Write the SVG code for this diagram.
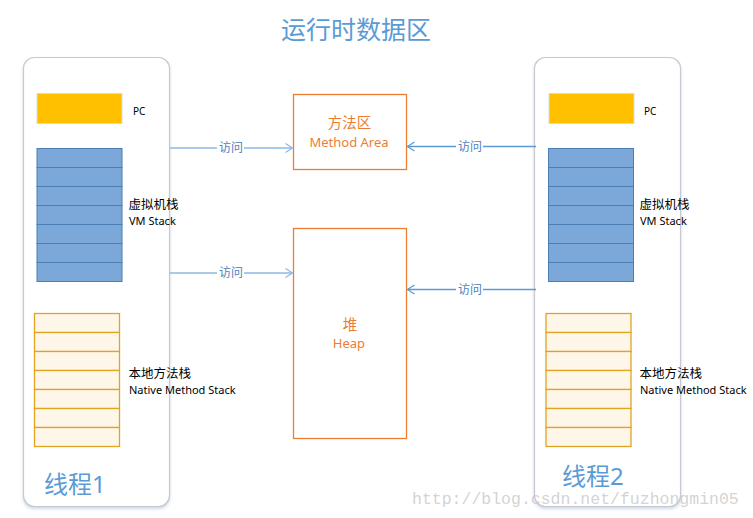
<svg xmlns="http://www.w3.org/2000/svg" width="753" height="518" viewBox="0 0 753 518">
<defs>
<style>
.t{font-family:"Noto Sans","Noto Sans CJK SC",sans-serif;fill:#000}
.lbl{font-size:11px}
.zh{font-size:12.5px}
.pc{font-size:10px}
.org{font-family:"Noto Sans","Noto Sans CJK SC",sans-serif;fill:#ED7D31;text-anchor:middle}
.blue{font-family:"Noto Sans","Noto Sans CJK SC",sans-serif;fill:#5B9BD5}
.cl{font-family:"Noto Sans CJK SC",sans-serif;font-size:12px;fill:#4F81BD;text-anchor:middle}
.panel{fill:#fff;stroke:#c6c9cf;stroke-width:1.2}
.pcbox{fill:#FFC000;stroke:#d9d9d9;stroke-width:1}
.vm{fill:#7BA7D9;stroke:#4A7EB5;stroke-width:1}
.nat{fill:#FFF6EA;stroke:#E0A520;stroke-width:1.3}
.area{fill:#fff;stroke:#ED7D31;stroke-width:1.3}
.conn{fill:none;stroke-width:1.3}
</style>
<filter id="sh" x="-10%" y="-5%" width="120%" height="110%">
<feDropShadow dx="0" dy="2" stdDeviation="1.5" flood-color="#9db8d8" flood-opacity="0.5"/>
</filter>
<marker id="arL" markerUnits="userSpaceOnUse" markerWidth="10" markerHeight="12" refX="8" refY="5" orient="auto">
<path d="M1,0.5 L8,5 L1,9.5" fill="none" stroke="#8EB8E5" stroke-width="1.2"/>
</marker>
<marker id="arR" markerUnits="userSpaceOnUse" markerWidth="10" markerHeight="12" refX="8" refY="5" orient="auto">
<path d="M1,0.5 L8,5 L1,9.5" fill="none" stroke="#5B9BD5" stroke-width="1.2"/>
</marker>
</defs>
<rect width="753" height="518" fill="#fff"/>

<text class="blue" x="281" y="39" font-size="25">运行时数据区</text>

<g id="thread1">
<rect class="panel" x="23.5" y="57.5" width="146" height="449" rx="11" filter="url(#sh)"/>
<rect class="pcbox" x="37" y="93.5" width="85" height="30"/>
<text class="t pc" x="133" y="115">PC</text>
<rect class="vm" x="37" y="148.5" width="85" height="19"/>
<rect class="vm" x="37" y="167.5" width="85" height="19"/>
<rect class="vm" x="37" y="186.5" width="85" height="19"/>
<rect class="vm" x="37" y="205.5" width="85" height="19"/>
<rect class="vm" x="37" y="224.5" width="85" height="19"/>
<rect class="vm" x="37" y="243.5" width="85" height="19"/>
<rect class="vm" x="37" y="262.5" width="85" height="19"/>
<text class="t zh" x="128.5" y="209">虚拟机栈</text>
<text class="t lbl" x="129" y="225">VM Stack</text>
<rect class="nat" x="34.5" y="313.5" width="85" height="19"/>
<rect class="nat" x="34.5" y="332.5" width="85" height="19"/>
<rect class="nat" x="34.5" y="351.5" width="85" height="19"/>
<rect class="nat" x="34.5" y="370.5" width="85" height="19"/>
<rect class="nat" x="34.5" y="389.5" width="85" height="19"/>
<rect class="nat" x="34.5" y="408.5" width="85" height="19"/>
<rect class="nat" x="34.5" y="427.5" width="85" height="19"/>
<text class="t zh" x="128.5" y="378">本地方法栈</text>
<text class="t lbl" x="129" y="394">Native Method Stack</text>
<text class="blue" x="44" y="493" font-size="24">线程1</text>
</g>

<g id="thread2">
<rect class="panel" x="534.5" y="57.5" width="146" height="449" rx="11" filter="url(#sh)"/>
<rect class="pcbox" x="549" y="93.5" width="85" height="30"/>
<text class="t pc" x="644" y="115">PC</text>
<rect class="vm" x="548.5" y="148.5" width="85" height="19"/>
<rect class="vm" x="548.5" y="167.5" width="85" height="19"/>
<rect class="vm" x="548.5" y="186.5" width="85" height="19"/>
<rect class="vm" x="548.5" y="205.5" width="85" height="19"/>
<rect class="vm" x="548.5" y="224.5" width="85" height="19"/>
<rect class="vm" x="548.5" y="243.5" width="85" height="19"/>
<rect class="vm" x="548.5" y="262.5" width="85" height="19"/>
<text class="t zh" x="639.5" y="209">虚拟机栈</text>
<text class="t lbl" x="640" y="225">VM Stack</text>
<rect class="nat" x="546" y="313.5" width="85" height="19"/>
<rect class="nat" x="546" y="332.5" width="85" height="19"/>
<rect class="nat" x="546" y="351.5" width="85" height="19"/>
<rect class="nat" x="546" y="370.5" width="85" height="19"/>
<rect class="nat" x="546" y="389.5" width="85" height="19"/>
<rect class="nat" x="546" y="408.5" width="85" height="19"/>
<rect class="nat" x="546" y="427.5" width="85" height="19"/>
<text class="t zh" x="639.5" y="378">本地方法栈</text>
<text class="t lbl" x="640" y="394">Native Method Stack</text>
<text class="blue" x="562" y="485" font-size="24">线程2</text>
</g>

<g id="method-area">
<rect class="area" x="293.5" y="94.5" width="113" height="75"/>
<text class="org" x="349.5" y="128" font-size="14.5">方法区</text>
<text class="org" x="349" y="146.5" font-size="13">Method Area</text>
</g>

<g id="heap">
<rect class="area" x="293.5" y="228.5" width="113" height="210"/>
<text class="org" x="350" y="329.5" font-size="14.5">堆</text>
<text class="org" x="349" y="347.5" font-size="13">Heap</text>
</g>

<g id="connectors">
<line class="conn" x1="170" y1="148" x2="292.5" y2="148" stroke="#8EB8E5" marker-end="url(#arL)"/>
<rect x="217" y="140" width="27" height="16" fill="#fff"/>
<text class="cl" x="231" y="152">访问</text>
<line class="conn" x1="170" y1="273" x2="292.5" y2="273" stroke="#8EB8E5" marker-end="url(#arL)"/>
<rect x="217" y="265" width="27" height="16" fill="#fff"/>
<text class="cl" x="231" y="277">访问</text>
<line class="conn" x1="536" y1="146.5" x2="407.5" y2="146.5" stroke="#5B9BD5" marker-end="url(#arR)"/>
<rect x="456" y="138.5" width="27" height="16" fill="#fff"/>
<text class="cl" x="470" y="150.5">访问</text>
<line class="conn" x1="536" y1="289.5" x2="407.5" y2="289.5" stroke="#5B9BD5" marker-end="url(#arR)"/>
<rect x="456" y="281.5" width="27" height="16" fill="#fff"/>
<text class="cl" x="470" y="293.5">访问</text>
</g>

<text x="412" y="504" font-family="Liberation Mono, monospace" font-size="16.5" fill="#c8c8c8" fill-opacity="0.8">http://blog.csdn.net/fuzhongmin05</text>
</svg>
